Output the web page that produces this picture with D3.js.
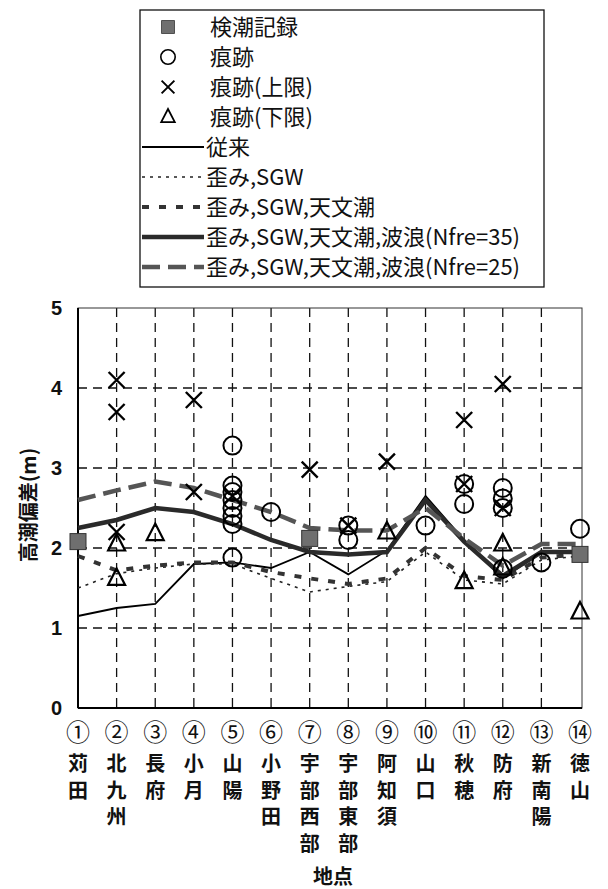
<!DOCTYPE html>
<html>
<head>
<meta charset="utf-8">
<script src="https://cdn.jsdelivr.net/npm/d3@7"></script>
<style>
  body { margin: 0; background: #fff; }
  svg text { font-family: "Noto Sans CJK JP", "Liberation Sans", sans-serif; fill: #111; }
</style>
</head>
<body>
<svg id="chart" width="608" height="889"></svg>
<script>
// sites along the x axis
let siteNums = ['①','②','③','④','⑤','⑥','⑦','⑧','⑨','⑩','⑪','⑫','⑬','⑭'];
let siteNames = ['苅田','北九州','長府','小月','山陽','小野田','宇部西部','宇部東部','阿知須','山口','秋穂','防府','新南陽','徳山'];

// computed series (m)
let conventional = [1.15, 1.25, 1.3, 1.8, 1.82, 1.75, 1.95, 1.67, 1.97, 2.65, 2.1, 1.62, 1.95, 1.95];
let sgw          = [1.5, 1.68, 1.75, 1.8, 1.8, 1.62, 1.45, 1.52, 1.58, 1.95, 1.6, 1.55, 1.85, 1.9];
let sgwTide      = [1.9, 1.72, 1.78, 1.82, 1.82, 1.7, 1.62, 1.55, 1.62, 2.0, 1.65, 1.6, 1.88, 1.92];
let wave35       = [2.25, 2.35, 2.5, 2.45, 2.3, 2.1, 1.95, 1.92, 1.95, 2.6, 2.08, 1.65, 1.95, 1.95];
let wave25       = [2.6, 2.72, 2.83, 2.75, 2.6, 2.45, 2.25, 2.22, 2.22, 2.5, 2.12, 1.78, 2.05, 2.05];

// observations [site, value]
let tideRecord = [['苅田',2.08],['宇部西部',2.12],['徳山',1.92]];
let trace = [['山陽',3.28],['山陽',2.78],['山陽',2.7],['山陽',2.6],['山陽',2.5],['山陽',2.4],['山陽',2.3],['山陽',1.88],
             ['小野田',2.45],['宇部東部',2.28],['宇部東部',2.1],['山口',2.28],['秋穂',2.8],['秋穂',2.55],
             ['防府',2.75],['防府',2.62],['防府',2.5],['防府',1.74],['新南陽',1.82],['徳山',2.24]];
let traceUpper = [['北九州',4.1],['北九州',3.7],['北九州',2.2],['小月',3.85],['小月',2.7],['山陽',2.65],
                  ['宇部西部',2.98],['宇部東部',2.28],['阿知須',3.08],['秋穂',3.6],['秋穂',2.8],['防府',4.05],['防府',2.5]];
let traceLower = [['北九州',2.05],['北九州',1.62],['長府',2.18],['阿知須',2.2],['秋穂',1.58],['防府',2.05],['防府',1.75],['徳山',1.2]];

let yTicks = [0, 1, 2, 3, 4, 5];

let svg = d3.select('#chart');
let plot = { left: 78, right: 580, top: 308, bottom: 708 };

let x = d3.scalePoint().domain(siteNames).range([plot.left, plot.right]);
let y = d3.scaleLinear().domain([0, 5]).range([plot.bottom, plot.top]);

// grid
let grid = svg.append('g').attr('class', 'grid');
grid.selectAll('.vgrid')
  .data(siteNames.slice(1, -1))
  .enter().append('line')
  .attr('x1', d => x(d)).attr('x2', d => x(d))
  .attr('y1', plot.top).attr('y2', plot.bottom)
  .attr('stroke', '#111').attr('stroke-width', 1.3)
  .attr('stroke-dasharray', '9,6');
grid.selectAll('.hgrid')
  .data(yTicks.slice(1, -1))
  .enter().append('line')
  .attr('x1', plot.left).attr('x2', plot.right + 2)
  .attr('y1', d => y(d)).attr('y2', d => y(d))
  .attr('stroke', '#111').attr('stroke-width', 1.3)
  .attr('stroke-dasharray', '9,6');

// frame
svg.append('rect')
  .attr('x', plot.left).attr('y', plot.top)
  .attr('width', plot.right + 2 - plot.left).attr('height', plot.bottom - plot.top)
  .attr('fill', 'none').attr('stroke', '#333').attr('stroke-width', 1);
svg.append('line')
  .attr('x1', plot.left).attr('x2', plot.left)
  .attr('y1', plot.top).attr('y2', plot.bottom)
  .attr('stroke', '#000').attr('stroke-width', 2);
svg.append('line')
  .attr('x1', plot.left).attr('x2', plot.right + 2)
  .attr('y1', plot.bottom).attr('y2', plot.bottom)
  .attr('stroke', '#000').attr('stroke-width', 2);

// y axis
let yAxis = d3.axisLeft(y).tickValues(yTicks).tickFormat(d3.format('d')).tickSize(0).tickPadding(16);
let yg = svg.append('g')
  .attr('transform', 'translate(' + plot.left + ',0)')
  .call(yAxis);
yg.select('.domain').remove();
yg.selectAll('text')
  .style('font-family', '"Liberation Sans", Arial, sans-serif')
  .style('font-size', '20px').style('font-weight', 'bold').attr('fill', '#111');

svg.append('text')
  .attr('transform', 'translate(36,505) rotate(-90)')
  .attr('text-anchor', 'middle')
  .style('font-size', '20px').style('font-weight', 'bold')
  .text('高潮偏差(m)');

// x labels (vertical)
let xl = svg.append('g').attr('class', 'x-labels');
siteNames.forEach(function (name, i) {
  let g = xl.append('g');
  g.append('text')
    .attr('x', x(name)).attr('y', 741)
    .attr('text-anchor', 'middle')
    .style('font-size', '24px')
    .text(siteNums[i]);
  name.split('').forEach(function (ch, j) {
    g.append('text')
      .attr('x', x(name)).attr('y', 771 + j * 26.5)
      .attr('text-anchor', 'middle')
      .style('font-size', '20px').style('font-weight', 'bold')
      .text(ch);
  });
});
svg.append('text')
  .attr('x', (plot.left + plot.right) / 2 + 4).attr('y', 884)
  .attr('text-anchor', 'middle')
  .style('font-size', '20px').style('font-weight', 'bold')
  .text('地点');

// series
let seriesList = [
  { name: '従来', values: conventional, stroke: '#000', width: 1.8, dash: null },
  { name: '歪み,SGW', values: sgw, stroke: '#222', width: 1.6, dash: '3,5' },
  { name: '歪み,SGW,天文潮', values: sgwTide, stroke: '#333', width: 4, dash: '7,10' },
  { name: '歪み,SGW,天文潮,波浪(Nfre=35)', values: wave35, stroke: '#2a2a2a', width: 4.5, dash: null },
  { name: '歪み,SGW,天文潮,波浪(Nfre=25)', values: wave25, stroke: '#555', width: 4.5, dash: '18,8' }
];

let line = d3.line()
  .x((d, i) => x(siteNames[i]))
  .y(d => y(d));

svg.append('g').selectAll('path')
  .data(seriesList)
  .enter().append('path')
  .attr('d', d => line(d.values))
  .attr('fill', 'none')
  .attr('stroke', d => d.stroke)
  .attr('stroke-width', d => d.width)
  .attr('stroke-dasharray', d => d.dash)
  .attr('stroke-linejoin', 'miter');

// marker helpers
let drawSquare = function (sel) {
  sel.append('rect')
    .attr('x', -8).attr('y', -8).attr('width', 16).attr('height', 16)
    .attr('fill', '#6f6f6f').attr('stroke', '#333').attr('stroke-width', 1);
};
let drawCircle = function (sel) {
  sel.append('circle').attr('r', 9)
    .attr('fill', 'none').attr('stroke', '#000').attr('stroke-width', 2);
};
let drawCross = function (sel) {
  sel.append('path').attr('d', 'M-8,-8L8,8M-8,8L8,-8')
    .attr('stroke', '#000').attr('stroke-width', 2.4).attr('fill', 'none');
};
let drawTriangle = function (sel) {
  sel.append('path').attr('d', 'M0,-10L8.5,6.5L-8.5,6.5Z')
    .attr('stroke', '#000').attr('stroke-width', 2.2).attr('fill', 'none');
};

let markers = svg.append('g').attr('class', 'markers');
let addMarkers = function (data, draw) {
  markers.append('g').selectAll('g')
    .data(data)
    .enter().append('g')
    .attr('transform', d => 'translate(' + x(d[0]) + ',' + y(d[1]) + ')')
    .call(draw);
};
addMarkers(traceLower, drawTriangle);
addMarkers(trace, drawCircle);
addMarkers(traceUpper, drawCross);
addMarkers(tideRecord, drawSquare);

// legend
let legend = svg.append('g').attr('class', 'legend');
legend.append('rect')
  .attr('x', 140).attr('y', 10).attr('width', 404).attr('height', 277)
  .attr('fill', '#fff').attr('stroke', '#111').attr('stroke-width', 1.3);

let markerItems = [
  { name: '検潮記録', draw: drawSquare },
  { name: '痕跡', draw: drawCircle },
  { name: '痕跡(上限)', draw: drawCross },
  { name: '痕跡(下限)', draw: drawTriangle }
];
let rowY = i => 27 + i * 30;

markerItems.forEach(function (item, i) {
  let g = legend.append('g').attr('transform', 'translate(168,' + rowY(i) + ') scale(0.8)');
  item.draw(g);
  legend.append('text')
    .attr('x', 210).attr('y', rowY(i)).attr('dy', '0.36em')
    .style('font-size', '22px')
    .text(item.name);
});
seriesList.forEach(function (s, j) {
  let i = j + 4;
  legend.append('line')
    .attr('x1', 142).attr('x2', 204)
    .attr('y1', rowY(i)).attr('y2', rowY(i))
    .attr('stroke', s.stroke).attr('stroke-width', s.width)
    .attr('stroke-dasharray', s.dash);
  legend.append('text')
    .attr('x', 206).attr('y', rowY(i)).attr('dy', '0.36em')
    .style('font-size', '22px')
    .text(s.name);
});
</script>
</body>
</html>
